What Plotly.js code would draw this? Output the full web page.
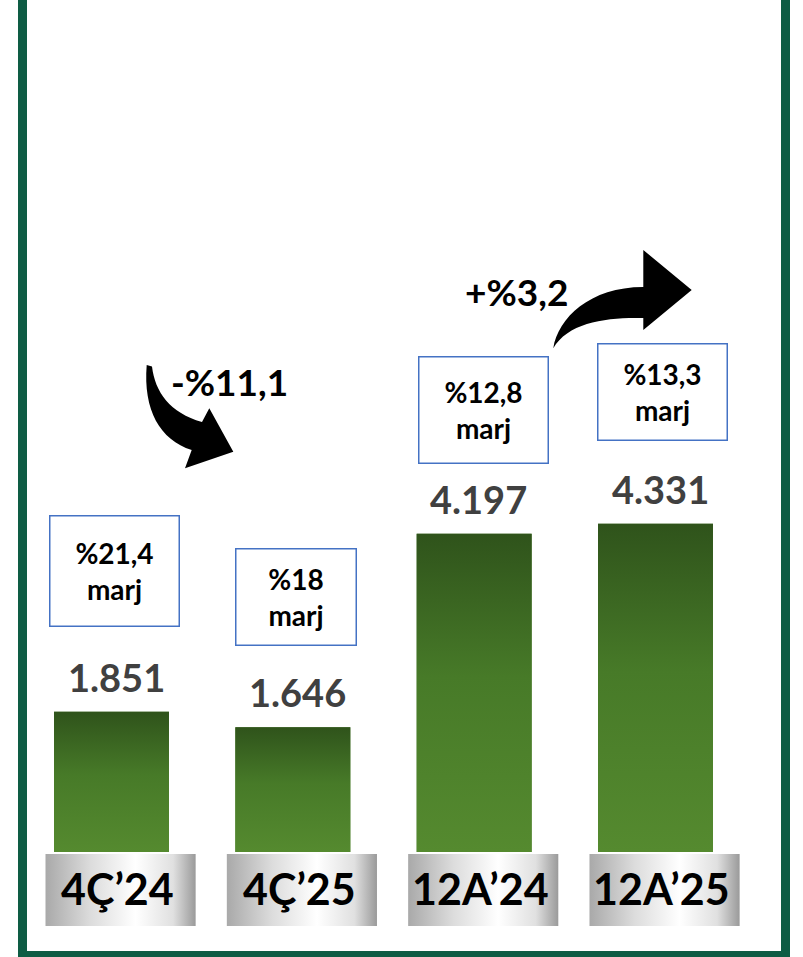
<!DOCTYPE html>
<html>
<head>
<meta charset="utf-8">
<script src="https://cdn.plot.ly/plotly-3.0.1.min.js"></script>
<style>html,body{margin:0;padding:0;background:#fff;}#chart{width:803px;height:957px;}</style>
</head>
<body>
<div id="chart"></div>
<script>
// ---- data ----
const categories = ['4Ç’24', '4Ç’25', '12A’24', '12A’25'];
const values = [1851, 1646, 4197, 4331];
const valueLabels = ['1.851', '1.646', '4.197', '4.331'];
const marginLabels = ['%21,4', '%18', '%12,8', '%13,3'];
const changeLabels = ['-%11,1', '+%3,2'];

// ---- geometry helpers (layout only) ----
const W = 803, H = 957;
const xr = [-0.6149, 3.8135], yr = [-1385, 11239];
const X = px => xr[0] + (xr[1] - xr[0]) * px / W;
const Y = py => yr[1] - (yr[1] - yr[0]) * py / H;
const idx = categories.map((c, i) => i);
const FONT = 'Lato, "Open Sans", sans-serif';

const traces = [];
// bars
traces.push({
  type: 'bar', x: idx, y: values, width: 0.634,
  marker: {color: '#477a29', line: {width: 0}},
  hoverinfo: 'skip', showlegend: false
});
// gradient overlay on bars
idx.forEach(i => {
  const hw = 0.317;
  traces.push({
    type: 'scatter', mode: 'lines',
    x: [i - hw, i + hw, i + hw, i - hw, i - hw],
    y: [0, 0, values[i], values[i], 0],
    fill: 'toself', line: {width: 0, color: 'rgba(0,0,0,0)'},
    fillgradient: {type: 'vertical', colorscale: [[0, '#558a2f'], [0.55, '#477a28'], [1, '#2f531b']]},
    hoverinfo: 'skip', showlegend: false
  });
});
// category label boxes (silver gradient)
idx.forEach(i => {
  const cx = i + 0.05, hw = 0.414;
  traces.push({
    type: 'scatter', mode: 'lines',
    x: [cx - hw, cx + hw, cx + hw, cx - hw, cx - hw],
    y: [Y(926), Y(926), Y(854), Y(854), Y(926)],
    fill: 'toself', line: {width: 0, color: 'rgba(0,0,0,0)'},
    fillgradient: {type: 'horizontal', colorscale: [[0, '#a9a9a9'], [0.3, '#dcdcdc'], [0.6, '#ffffff'], [0.85, '#e0e0e0'], [1, '#9a9a9a']]},
    hoverinfo: 'skip', showlegend: false
  });
});

const annotations = [];
// category labels
idx.forEach(i => {
  annotations.push({
    x: i + 0.035, y: Y(888), xref: 'x', yref: 'y', text: '<b>' + categories[i] + '</b>',
    showarrow: false, xanchor: 'center', yanchor: 'middle',
    font: {family: FONT, size: 43, color: '#000000'}
  });
});
// value labels
idx.forEach(i => {
  annotations.push({
    x: i + 0.026, y: values[i], xref: 'x', yref: 'y', text: '<b>' + valueLabels[i] + '</b>',
    showarrow: false, xanchor: 'center', yanchor: 'middle', yshift: 35,
    font: {family: FONT, size: 38, color: '#404040'}
  });
});
// margin boxes
const boxDx = [0.019, 0.019, 0.052, 0.041];
const boxShift = [85, 81, 70, 83];
const boxW = [128, 119, 128, 128];
const boxH = [109, 95, 105, 95];
idx.forEach(i => {
  annotations.push({
    x: i + boxDx[i], y: values[i], xref: 'x', yref: 'y',
    text: '<b>' + marginLabels[i] + '</b><br><b>marj</b>',
    showarrow: false, xanchor: 'center', yanchor: 'bottom', yshift: boxShift[i],
    width: boxW[i], height: boxH[i], borderpad: 0, borderwidth: 1.5, bordercolor: '#4472c4',
    align: 'center', valign: 'middle',
    font: {family: FONT, size: 28, color: '#000000'}
  });
});
// change labels
annotations.push({
  x: X(229), y: Y(381), xref: 'x', yref: 'y', text: '<b>' + changeLabels[0] + '</b>',
  showarrow: false, xanchor: 'center', yanchor: 'middle',
  font: {family: FONT, size: 37, color: '#000000'}
});
annotations.push({
  x: X(516), y: Y(291), xref: 'x', yref: 'y', text: '<b>' + changeLabels[1] + '</b>',
  showarrow: false, xanchor: 'center', yanchor: 'middle',
  font: {family: FONT, size: 37, color: '#000000'}
});

// arrows built from pixel geometry
function pathFrom(cmds) {
  return cmds.map(c => {
    const op = c[0], pts = c.slice(1);
    let s = op;
    for (let k = 0; k < pts.length; k += 2) s += ' ' + X(pts[k]).toFixed(5) + ',' + Y(pts[k + 1]).toFixed(2);
    return s;
  }).join(' ') + ' Z';
}
const arrowDown = pathFrom([
  ['M', 146.7, 365], ['L', 152, 366.5],
  ['C', 155, 392, 170, 413, 202, 422],
  ['L', 209.3, 408.3], ['L', 233.3, 451.7], ['L', 185, 468.3], ['L', 191.7, 450],
  ['C', 160, 440, 143, 410, 146.7, 365]
]);
const arrowUp = pathFrom([
  ['M', 553.3, 348.3],
  ['C', 558, 318, 590, 287, 643.3, 287],
  ['L', 643.3, 250], ['L', 691.7, 290], ['L', 643.3, 330], ['L', 643.3, 318],
  ['C', 608, 317, 568, 322, 553.3, 348.3]
]);

const shapes = [
  {type: 'path', xref: 'x', yref: 'y', path: arrowDown, fillcolor: '#000000', line: {width: 0}},
  {type: 'path', xref: 'x', yref: 'y', path: arrowUp, fillcolor: '#000000', line: {width: 0}},
  // green frame (open at top)
  {type: 'path', xref: 'paper', yref: 'paper',
   path: 'M ' + (22.5 / W) + ',1.02 L ' + (22.5 / W) + ',' + (1.5 / H) + ' L ' + (785.5 / W) + ',' + (1.5 / H) + ' L ' + (785.5 / W) + ',1.02',
   line: {color: '#0e5c44', width: 9}, layer: 'above'}
];

const layout = {
  width: W, height: H,
  margin: {l: 0, r: 0, t: 0, b: 0, pad: 0},
  paper_bgcolor: '#ffffff', plot_bgcolor: '#ffffff',
  showlegend: false,
  xaxis: {range: xr, visible: false, showgrid: false, zeroline: false, fixedrange: true},
  yaxis: {range: yr, visible: false, showgrid: false, zeroline: false, fixedrange: true},
  annotations: annotations,
  shapes: shapes
};

Plotly.newPlot('chart', traces, layout, {staticPlot: true, displayModeBar: false});
</script>
</body>
</html>
